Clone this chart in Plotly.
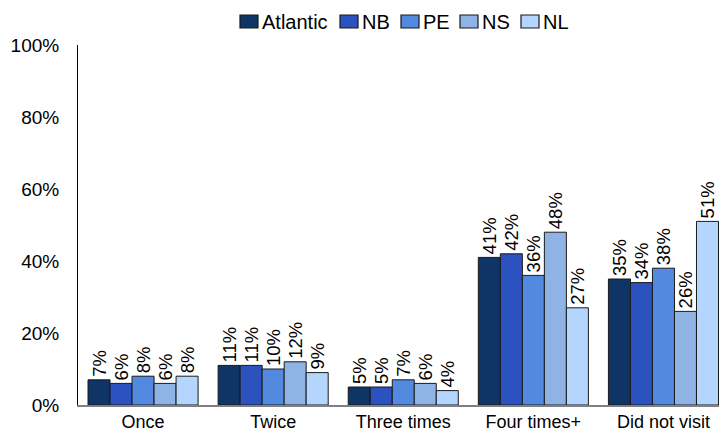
import plotly.graph_objects as go

categories = ["Once", "Twice", "Three times", "Four times+", "Did not visit"]
series_names = ["Atlantic", "NB", "PE", "NS", "NL"]
atlantic = [7, 11, 5, 41, 35]
nb = [6, 11, 5, 42, 34]
pe = [8, 10, 7, 36, 38]
ns = [6, 12, 6, 48, 26]
nl = [8, 9, 4, 27, 51]
y_ticks = [0, 20, 40, 60, 80, 100]

series_values = [atlantic, nb, pe, ns, nl]
colors = ["#0f3466", "#2b52be", "#538ae0", "#8fb3e4", "#b4d5fd"]

font_family = "Liberation Sans, Arial, sans-serif"

W, H = 719, 434
M_L, M_R, M_T, M_B = 78, 0, 45, 29
plot_w = W - M_L - M_R
plot_h = H - M_T - M_B


def px_to_paper_x(px):
    return (px - M_L) / plot_w


def px_to_paper_y(py):
    return 1 + (M_T - py) / plot_h


fig = go.Figure()
for name, vals, col in zip(series_names, series_values, colors):
    fig.add_trace(go.Bar(
        name=name,
        x=categories,
        y=vals,
        marker=dict(color=col, line=dict(color="#1a1a1a", width=1)),
        text=[f"{v}%" for v in vals],
        textposition="outside",
        textangle=-90,
        constraintext="none",
        cliponaxis=False,
        textfont=dict(family=font_family, size=18.5, color="#000000"),
        showlegend=False,
    ))

# Legend row drawn as swatches plus labels across the top
legend_swatch_left = [240, 340, 401, 460, 521]
swatch_w, swatch_top, swatch_bottom = 18, 15, 28
shapes = []
annotations = []
for name, col, left in zip(series_names, colors, legend_swatch_left):
    shapes.append(dict(
        type="rect", xref="paper", yref="paper",
        x0=px_to_paper_x(left), x1=px_to_paper_x(left + swatch_w),
        y0=px_to_paper_y(swatch_bottom), y1=px_to_paper_y(swatch_top),
        fillcolor=col, line=dict(color="#1a1a1a", width=1.2),
    ))
    annotations.append(dict(
        text=name, xref="paper", yref="paper",
        x=px_to_paper_x(left + swatch_w + 2), y=px_to_paper_y((swatch_top + swatch_bottom) / 2 + 0.5),
        xanchor="left", yanchor="middle", showarrow=False,
        font=dict(family=font_family, size=20, color="#000000"),
    ))

fig.update_layout(
    width=W,
    height=H,
    margin=dict(l=M_L, r=M_R, t=M_T, b=M_B),
    barmode="group",
    bargap=0.154,
    bargroupgap=0,
    plot_bgcolor="#ffffff",
    paper_bgcolor="#ffffff",
    font=dict(family=font_family, size=18, color="#000000"),
    showlegend=False,
    shapes=shapes,
    annotations=annotations,
    xaxis=dict(
        range=[-0.5, 4.5 - 9.5 / 130],
        showline=True,
        linecolor="#808080",
        linewidth=1.5,
        ticks="",
        showgrid=False,
        tickfont=dict(family=font_family, size=18, color="#000000"),
    ),
    yaxis=dict(
        range=[0, 100],
        tickvals=y_ticks,
        ticktext=[f"{t}%" for t in y_ticks],
        showline=True,
        linecolor="#000000",
        linewidth=1,
        showgrid=False,
        zeroline=False,
        ticks="",
        ticklabelstandoff=14,
        tickfont=dict(family=font_family, size=19, color="#000000"),
    ),
)

fig.write_html("out.html")
